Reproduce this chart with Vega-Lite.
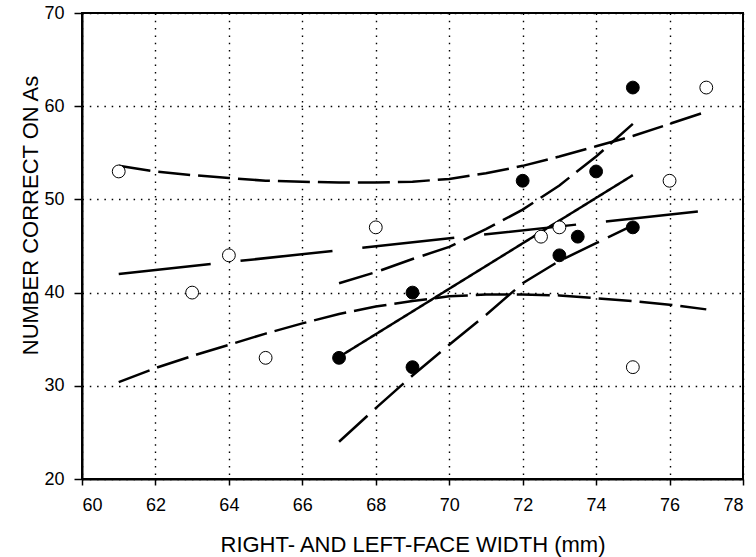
{
  "$schema": "https://vega.github.io/schema/vega-lite/v6.json",
  "width": 661,
  "height": 466,
  "autosize": {"type": "none"},
  "padding": {"left": 82, "top": 13, "right": 13, "bottom": 78},
  "background": "white",
  "config": {
    "view": {"stroke": "#000", "strokeWidth": 2},
    "font": "Liberation Sans",
    "axis": {
      "grid": true,
      "gridColor": "#000",
      "gridDash": [1.5, 5.8],
      "gridWidth": 1.4,
      "gridOpacity": 1,
      "domainColor": "#000",
      "domainWidth": 2,
      "tickColor": "#000",
      "tickWidth": 1.5,
      "labelColor": "#000",
      "labelFont": "Liberation Sans",
      "labelFontSize": 18,
      "titleColor": "#000",
      "titleFont": "Liberation Sans",
      "titleFontSize": 22,
      "titleFontWeight": "normal"
    }
  },
  "datasets": {
    "points": [
      {"group": "open", "x": 61, "y": 53},
      {"group": "open", "x": 63, "y": 40},
      {"group": "open", "x": 64, "y": 44},
      {"group": "open", "x": 65, "y": 33},
      {"group": "open", "x": 68, "y": 47},
      {"group": "open", "x": 72.5, "y": 46},
      {"group": "open", "x": 73, "y": 47},
      {"group": "open", "x": 75, "y": 32},
      {"group": "open", "x": 76, "y": 52},
      {"group": "open", "x": 77, "y": 62},
      {"group": "filled", "x": 67, "y": 33},
      {"group": "filled", "x": 69, "y": 40},
      {"group": "filled", "x": 69, "y": 32},
      {"group": "filled", "x": 72, "y": 52},
      {"group": "filled", "x": 73, "y": 44},
      {"group": "filled", "x": 73.5, "y": 46},
      {"group": "filled", "x": 74, "y": 53},
      {"group": "filled", "x": 75, "y": 62},
      {"group": "filled", "x": 75, "y": 47}
    ],
    "lines": [
      {"series": "open_fit", "x": 61, "y": 42.0},
      {"series": "open_fit", "x": 77, "y": 48.8},
      {"series": "open_upper", "x": 61, "y": 53.6},
      {"series": "open_upper", "x": 62, "y": 53.0},
      {"series": "open_upper", "x": 63, "y": 52.6},
      {"series": "open_upper", "x": 64, "y": 52.3},
      {"series": "open_upper", "x": 65, "y": 52.0},
      {"series": "open_upper", "x": 66, "y": 51.9},
      {"series": "open_upper", "x": 67, "y": 51.8},
      {"series": "open_upper", "x": 68, "y": 51.8},
      {"series": "open_upper", "x": 69, "y": 51.9},
      {"series": "open_upper", "x": 70, "y": 52.2},
      {"series": "open_upper", "x": 71, "y": 52.8},
      {"series": "open_upper", "x": 72, "y": 53.6},
      {"series": "open_upper", "x": 73, "y": 54.6},
      {"series": "open_upper", "x": 74, "y": 55.7},
      {"series": "open_upper", "x": 75, "y": 56.8},
      {"series": "open_upper", "x": 76, "y": 58.1},
      {"series": "open_upper", "x": 77, "y": 59.4},
      {"series": "open_lower", "x": 61, "y": 30.4},
      {"series": "open_lower", "x": 62, "y": 31.9},
      {"series": "open_lower", "x": 63, "y": 33.2},
      {"series": "open_lower", "x": 64, "y": 34.4},
      {"series": "open_lower", "x": 65, "y": 35.6},
      {"series": "open_lower", "x": 66, "y": 36.7},
      {"series": "open_lower", "x": 67, "y": 37.7},
      {"series": "open_lower", "x": 68, "y": 38.5},
      {"series": "open_lower", "x": 69, "y": 39.1},
      {"series": "open_lower", "x": 70, "y": 39.6},
      {"series": "open_lower", "x": 71, "y": 39.8},
      {"series": "open_lower", "x": 72, "y": 39.8},
      {"series": "open_lower", "x": 73, "y": 39.7},
      {"series": "open_lower", "x": 74, "y": 39.4},
      {"series": "open_lower", "x": 75, "y": 39.1},
      {"series": "open_lower", "x": 76, "y": 38.7},
      {"series": "open_lower", "x": 77, "y": 38.2},
      {"series": "filled_fit", "x": 67, "y": 33.1},
      {"series": "filled_fit", "x": 75, "y": 52.6},
      {"series": "filled_upper", "x": 67, "y": 41.0},
      {"series": "filled_upper", "x": 68, "y": 42.2},
      {"series": "filled_upper", "x": 69, "y": 43.6},
      {"series": "filled_upper", "x": 70, "y": 44.9},
      {"series": "filled_upper", "x": 71, "y": 46.8},
      {"series": "filled_upper", "x": 72, "y": 48.9},
      {"series": "filled_upper", "x": 73, "y": 51.5},
      {"series": "filled_upper", "x": 74, "y": 54.6},
      {"series": "filled_upper", "x": 75, "y": 58.1},
      {"series": "filled_lower", "x": 67, "y": 24.0},
      {"series": "filled_lower", "x": 68, "y": 27.6},
      {"series": "filled_lower", "x": 69, "y": 31.1},
      {"series": "filled_lower", "x": 70, "y": 34.4},
      {"series": "filled_lower", "x": 71, "y": 37.6},
      {"series": "filled_lower", "x": 72, "y": 41.0},
      {"series": "filled_lower", "x": 73, "y": 43.4},
      {"series": "filled_lower", "x": 74, "y": 45.3},
      {"series": "filled_lower", "x": 75, "y": 47.2}
    ]
  },
  "layer": [
    {
      "data": {"name": "lines"},
      "mark": {"type": "line", "color": "#000", "strokeWidth": 2.5, "strokeCap": "butt"},
      "encoding": {
        "x": {
          "field": "x", "type": "quantitative",
          "scale": {"domain": [60, 78], "nice": false, "zero": false},
          "axis": {
            "title": "RIGHT- AND LEFT-FACE WIDTH (mm)",
            "values": [60, 62, 64, 66, 68, 70, 72, 74, 76, 78],
            "tickSize": 6,
            "labelPadding": 11,
            "labelFontSize": 18,
            "titleFontSize": 22,
            "titleBaseline": "alphabetic",
            "titleY": 72
          }
        },
        "y": {
          "field": "y", "type": "quantitative",
          "scale": {"domain": [20, 70], "nice": false, "zero": false},
          "axis": {
            "title": "NUMBER CORRECT ON As",
            "values": [20, 30, 40, 50, 60, 70],
            "tickSize": 8,
            "labelPadding": 10,
            "labelFontSize": 18,
            "titleFontSize": 22,
            "titleBaseline": "alphabetic",
            "titleAngle": 270,
            "titleX": -45,
            "titleY": 202
          }
        },
        "detail": {"field": "series"},
        "strokeDash": {
          "field": "series", "type": "nominal", "legend": null,
          "scale": {
            "domain": ["open_fit", "open_upper", "open_lower", "filled_fit", "filled_upper", "filled_lower"],
            "range": [[92.5, 30], [32, 8], [33, 8], [1, 0], [35, 9], [38.5, 10]]
          }
        }
      }
    },
    {
      "data": {"name": "points"},
      "mark": {"type": "point", "shape": "circle", "filled": true, "size": 165, "stroke": "#000", "strokeWidth": 1, "opacity": 1},
      "encoding": {
        "x": {"field": "x", "type": "quantitative"},
        "y": {"field": "y", "type": "quantitative"},
        "fill": {
          "field": "group", "type": "nominal", "legend": null,
          "scale": {"domain": ["open", "filled"], "range": ["#ffffff", "#000000"]}
        }
      }
    }
  ]
}
